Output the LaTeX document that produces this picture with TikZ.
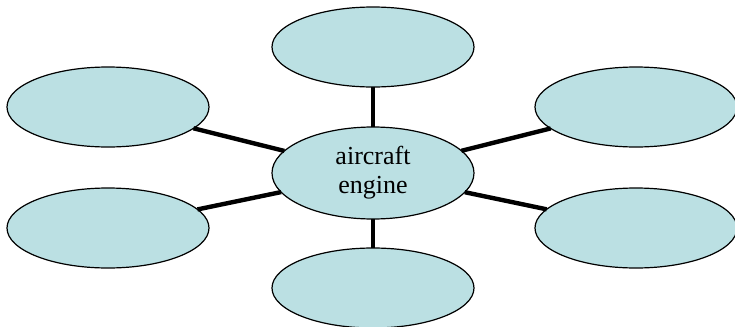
\documentclass[tikz,border=0pt]{standalone}
\usepackage{fontspec}
\setmainfont{Liberation Serif}
\usetikzlibrary{shapes.geometric}

\definecolor{bubblefill}{HTML}{BBE0E3}

\tikzset{
  bubble/.style={ellipse,draw=black,line width=0.6pt,fill=bubblefill,
    minimum width=101pt,minimum height=40pt,inner sep=0pt,outer sep=0pt},
  spoke/.style={line width=2.2pt}
}

\begin{document}
\begin{tikzpicture}[x=0.5pt,y=-0.5pt]
\useasboundingbox (0,0) rectangle (735,327);

\node[bubble,minimum height=46pt,align=center,font=\fontsize{13}{14.5}\selectfont]
  (engine) at (373,173) {aircraft\\engine};
\node[bubble] (top) at (373,47) {};
\node[bubble] (bottom) at (373,288) {};
\node[bubble] (upleft) at (108,107) {};
\node[bubble] (lowleft) at (108,228) {};
\node[bubble] (upright) at (636,107) {};
\node[bubble] (lowright) at (636,228) {};

\draw[spoke] (engine) -- (top);
\draw[spoke] (engine) -- (bottom);
\draw[spoke] (engine) -- (upleft);
\draw[spoke] (engine) -- (lowleft);
\draw[spoke] (engine) -- (upright);
\draw[spoke] (engine) -- (lowright);
\end{tikzpicture}
\end{document}
